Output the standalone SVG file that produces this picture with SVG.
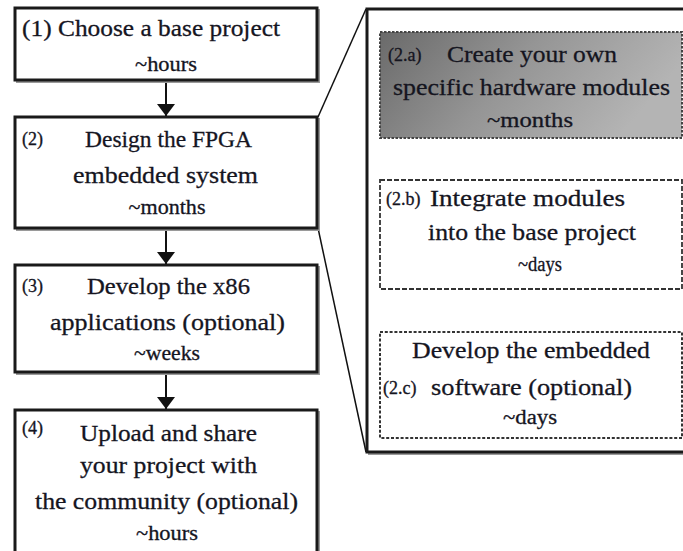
<svg xmlns="http://www.w3.org/2000/svg" width="683" height="551" viewBox="0 0 683 551">
<style>
.box{fill:#fff;stroke:#1a1a1a;stroke-width:3}
.shadow{fill:none;stroke:#9a9a9a;stroke-width:2}
.t{font-family:"Liberation Serif","DejaVu Serif",serif;fill:#15151f;font-size:24px;stroke:#15151f;stroke-width:0.3}
.s{font-size:20px}
.n{font-size:18px}
.m{text-anchor:middle}
.conn{stroke:#111;fill:none}
</style>
<defs>
<marker id="bigarrow" viewBox="0 0 12 18" refX="12" refY="9" markerWidth="12" markerHeight="18" markerUnits="userSpaceOnUse" orient="auto">
<path d="M0,0 L12,9 L0,18 Z" fill="#111"/>
</marker>
<marker id="smallarrow" viewBox="0 0 14 10" refX="14" refY="5" markerWidth="14" markerHeight="10" markerUnits="userSpaceOnUse" orient="auto">
<path d="M0,0 L14,5 L0,10 Z" fill="#111"/>
</marker>
<linearGradient id="g2a" x1="0" y1="0" x2="1" y2="0.3">
<stop offset="0" stop-color="#6a6a6a"/>
<stop offset="0.5" stop-color="#959595"/>
<stop offset="1" stop-color="#b4b4b4"/>
</linearGradient>
</defs>

<g id="connectors">
<line class="conn" x1="166" y1="81" x2="166" y2="116" stroke-width="2" marker-end="url(#bigarrow)"/>
<line class="conn" x1="166" y1="229" x2="166" y2="264" stroke-width="2" marker-end="url(#bigarrow)"/>
<line class="conn" x1="166" y1="373" x2="166" y2="409" stroke-width="2" marker-end="url(#bigarrow)"/>
<line class="conn" x1="318" y1="117" x2="366" y2="9" stroke-width="1.5"/>
<line class="conn" x1="318" y1="228" x2="366" y2="452" stroke-width="1.5"/>
<line class="conn" x1="530" y1="139" x2="530" y2="179" stroke-width="1.5" marker-end="url(#smallarrow)"/>
<line class="conn" x1="530" y1="290" x2="530" y2="331" stroke-width="1.5" marker-end="url(#smallarrow)"/>
</g>

<g id="panel">
<rect x="369" y="11" width="330" height="443" class="shadow"/>
<rect x="367" y="9" width="330" height="443" class="box"/>
</g>

<g id="n1">
<rect x="17" y="10" width="302" height="72" class="shadow"/>
<rect x="15" y="8" width="302" height="72" class="box"/>
<text class="t" x="22" y="36" textLength="258" lengthAdjust="spacingAndGlyphs">(1) Choose a base project</text>
<text class="t s m" x="166" y="71" textLength="62" lengthAdjust="spacingAndGlyphs">~hours</text>
</g>

<g id="n2">
<rect x="17" y="119" width="302" height="111" class="shadow"/>
<rect x="15" y="117" width="302" height="111" class="box"/>
<text class="t n" x="22" y="145">(2)</text>
<text class="t" x="85" y="147" textLength="167" lengthAdjust="spacingAndGlyphs">Design the FPGA</text>
<text class="t" x="73" y="183" textLength="185" lengthAdjust="spacingAndGlyphs">embedded system</text>
<text class="t s m" x="167" y="214" textLength="77" lengthAdjust="spacingAndGlyphs">~months</text>
</g>

<g id="n3">
<rect x="17" y="267" width="302" height="107" class="shadow"/>
<rect x="15" y="265" width="302" height="107" class="box"/>
<text class="t n" x="22" y="292">(3)</text>
<text class="t" x="87" y="294" textLength="163" lengthAdjust="spacingAndGlyphs">Develop the x86</text>
<text class="t" x="50" y="330" textLength="235" lengthAdjust="spacingAndGlyphs">applications (optional)</text>
<text class="t s m" x="167" y="360" textLength="66" lengthAdjust="spacingAndGlyphs">~weeks</text>
</g>

<g id="n4">
<rect x="17" y="412" width="302" height="160" class="shadow"/>
<rect x="15" y="410" width="302" height="160" class="box"/>
<text class="t n" x="22" y="434">(4)</text>
<text class="t" x="80" y="441" textLength="177" lengthAdjust="spacingAndGlyphs">Upload and share</text>
<text class="t" x="80" y="473" textLength="177" lengthAdjust="spacingAndGlyphs">your project with</text>
<text class="t" x="35" y="509" textLength="263" lengthAdjust="spacingAndGlyphs">the community (optional)</text>
<text class="t s m" x="167" y="540" textLength="62" lengthAdjust="spacingAndGlyphs">~hours</text>
</g>

<g id="n2a">
<rect x="380" y="32" width="302" height="106" fill="url(#g2a)" stroke="#444" stroke-width="2" stroke-dasharray="2.5,1.5"/>
<text class="t n" x="388" y="61">(2.a)</text>
<text class="t" x="447" y="62" textLength="170" lengthAdjust="spacingAndGlyphs">Create your own</text>
<text class="t" x="393" y="95" textLength="277" lengthAdjust="spacingAndGlyphs">specific hardware modules</text>
<text class="t s m" x="530" y="127" textLength="86" lengthAdjust="spacingAndGlyphs">~months</text>
</g>

<g id="n2b">
<rect x="380" y="180" width="302" height="109" fill="#fff" stroke="#333" stroke-width="1.8" stroke-dasharray="5,2"/>
<text class="t n" x="386" y="205">(2.b)</text>
<text class="t" x="430" y="206" textLength="195" lengthAdjust="spacingAndGlyphs">Integrate modules</text>
<text class="t" x="428" y="240" textLength="208" lengthAdjust="spacingAndGlyphs">into the base project</text>
<text class="t s m" x="540" y="271" textLength="44" lengthAdjust="spacingAndGlyphs">~days</text>
</g>

<g id="n2c">
<rect x="380" y="332" width="302" height="106" fill="#fff" stroke="#333" stroke-width="2" stroke-dasharray="3,1.8"/>
<text class="t" x="412" y="358" textLength="238" lengthAdjust="spacingAndGlyphs">Develop the embedded</text>
<text class="t n" x="383" y="394">(2.c)</text>
<text class="t" x="431" y="395" textLength="201" lengthAdjust="spacingAndGlyphs">software (optional)</text>
<text class="t s m" x="530" y="424" textLength="54" lengthAdjust="spacingAndGlyphs">~days</text>
</g>
</svg>
